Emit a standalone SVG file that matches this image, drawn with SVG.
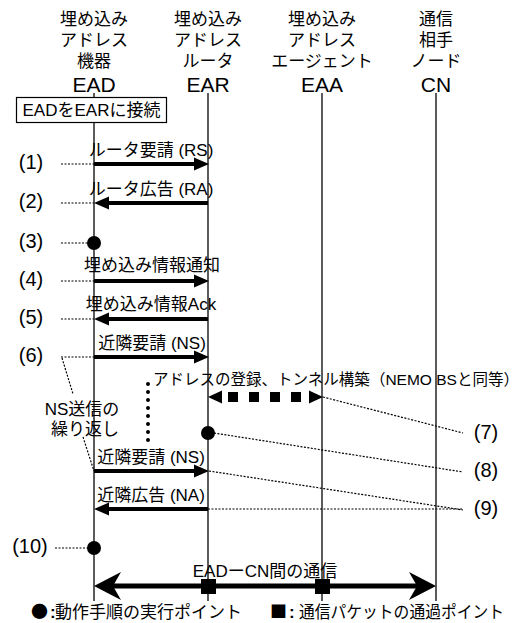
<svg xmlns="http://www.w3.org/2000/svg" width="527" height="623" viewBox="0 0 527 623">
<style>
text{font-family:"Liberation Sans","Noto Sans CJK JP",sans-serif;fill:#000}
.jp{font-size:17px}
.hd{font-size:17px;text-anchor:middle}
.big{font-size:21px;text-anchor:middle}
.lab{font-size:17px;text-anchor:middle}
.num{font-size:20px;text-anchor:middle}
.life{stroke:#333;stroke-width:1.6;fill:none}
.msg{stroke:#000;stroke-width:4;fill:none}
.head{fill:#000}
.dot{stroke:#000;stroke-width:1.2;stroke-dasharray:2 1.5;fill:none}
.pt{fill:#000}
</style>
<rect width="527" height="623" fill="#fff"/>

<g id="node-EAD">
<text class="hd" x="94" y="25">埋め込み</text>
<text class="hd" x="94" y="46">アドレス</text>
<text class="hd" x="94" y="67">機器</text>
<text class="big" x="94" y="92">EAD</text>
<line class="life" x1="94" y1="93" x2="94" y2="601"/>
</g>
<g id="node-EAR">
<text class="hd" x="208" y="25">埋め込み</text>
<text class="hd" x="208" y="46">アドレス</text>
<text class="hd" x="208" y="67">ルータ</text>
<text class="big" x="208" y="92">EAR</text>
<line class="life" x1="208" y1="93" x2="208" y2="601"/>
</g>
<g id="node-EAA">
<text class="hd" x="322" y="25">埋め込み</text>
<text class="hd" x="322" y="46">アドレス</text>
<text class="hd" x="322" y="67">エージェント</text>
<text class="big" x="322" y="92">EAA</text>
<line class="life" x1="322" y1="93" x2="322" y2="601"/>
</g>
<g id="node-CN">
<text class="hd" x="436" y="25">通信</text>
<text class="hd" x="436" y="46">相手</text>
<text class="hd" x="436" y="67">ノード</text>
<text class="big" x="436" y="92">CN</text>
<line class="life" x1="436" y1="93" x2="436" y2="601"/>
</g>

<g id="connect-box">
<rect x="16.5" y="97.5" width="150" height="25" fill="#fff" stroke="#000" stroke-width="1.2"/>
<text class="lab" x="91.5" y="116">EADをEARに接続</text>
</g>

<g id="step-labels">
<text class="num" x="31" y="169">(1)</text>
<text class="num" x="31" y="208">(2)</text>
<text class="num" x="31" y="248">(3)</text>
<text class="num" x="31" y="286">(4)</text>
<text class="num" x="31" y="324">(5)</text>
<text class="num" x="31" y="362">(6)</text>
<text class="num" x="486" y="439">(7)</text>
<text class="num" x="486" y="477">(8)</text>
<text class="num" x="486" y="515">(9)</text>
<text class="num" x="30" y="553">(10)</text>
<text class="jp" x="82" y="415" text-anchor="middle">NS送信の</text>
<text class="jp" x="85" y="435" text-anchor="middle">繰り返し</text>
</g>

<g id="points">
<circle class="pt" cx="94" cy="243" r="7"/>
<circle class="pt" cx="208" cy="433" r="7"/>
<circle class="pt" cx="94" cy="548" r="7"/>
</g>

<g id="connectors">
<text class="lab" x="151" y="156">ルータ要請 (RS)</text>
<line class="msg" x1="94" y1="164" x2="196" y2="164"/>
<polygon class="head" points="194,157.5 209,164 194,170.5"/>
<line class="dot" x1="61" y1="164" x2="94" y2="164"/>
<text class="lab" x="151" y="195">ルータ広告 (RA)</text>
<line class="msg" x1="208" y1="203" x2="106" y2="203"/>
<polygon class="head" points="109,196.5 94,203 109,209.5"/>
<line class="dot" x1="61" y1="203" x2="94" y2="203"/>
<line class="dot" x1="61" y1="243" x2="88" y2="243"/>
<text class="lab" x="152" y="271">埋め込み情報通知</text>
<line class="msg" x1="94" y1="281" x2="196" y2="281"/>
<polygon class="head" points="194,274.5 209,281 194,287.5"/>
<line class="dot" x1="61" y1="281" x2="94" y2="281"/>
<text class="lab" x="151" y="310">埋め込み情報Ack</text>
<line class="msg" x1="208" y1="319" x2="106" y2="319"/>
<polygon class="head" points="109,312.5 94,319 109,325.5"/>
<line class="dot" x1="61" y1="319" x2="94" y2="319"/>
<text class="lab" x="152" y="349">近隣要請 (NS)</text>
<line class="msg" x1="94" y1="357" x2="196" y2="357"/>
<polygon class="head" points="194,350.5 209,357 194,363.5"/>
<line class="dot" x1="61" y1="357" x2="94" y2="357"/>
<line class="dot" x1="62" y1="358" x2="73" y2="394"/>
<line class="dot" x1="83" y1="437" x2="94" y2="471"/>
<line x1="148" y1="384" x2="148" y2="441" stroke="#000" stroke-width="4" stroke-linecap="round" stroke-dasharray="0 8"/>
<text x="153" y="385" style="font-size:15.5px" textLength="366" lengthAdjust="spacingAndGlyphs">アドレスの登録、トンネル構築（NEMO BSと同等）</text>
<polygon class="head" points="222,390.5 208,397 222,403.5"/>
<polygon class="head" points="309,390.5 323,397 309,403.5"/>
<path d="M228,397 H302" stroke="#000" stroke-width="10" stroke-dasharray="10 11" fill="none"/>
<line class="dot" x1="323" y1="397" x2="463" y2="433"/>
<line class="dot" x1="214" y1="433" x2="463" y2="472"/>
<text class="lab" x="151" y="463">近隣要請 (NS)</text>
<line class="msg" x1="94" y1="471" x2="196" y2="471"/>
<polygon class="head" points="194,464.5 209,471 194,477.5"/>
<line class="dot" x1="209" y1="471" x2="463" y2="510"/>
<text class="lab" x="151" y="501">近隣広告 (NA)</text>
<line class="msg" x1="208" y1="509" x2="106" y2="509"/>
<polygon class="head" points="109,502.5 94,509 109,515.5"/>
<line class="dot" x1="208" y1="509" x2="463" y2="509"/>
<line class="dot" x1="55" y1="548" x2="88" y2="548"/>
<text class="lab" x="265" y="577">EADーCN間の通信</text>
<line x1="108" y1="586" x2="422" y2="586" stroke="#000" stroke-width="5"/>
<path class="head" d="M94,586 L121,572 L113,586 L121,600 Z"/>
<path class="head" d="M436,586 L409,572 L417,586 L409,600 Z"/>
<rect class="pt" x="201" y="579" width="15" height="15"/>
<rect class="pt" x="315" y="579" width="15" height="15"/>
</g>

<g id="legend">
<text x="31" y="618" style="font-family:'Noto Sans CJK JP',sans-serif;font-size:17px">●</text>
<text x="50" y="618" style="font-size:17px;font-weight:bold">:</text>
<text class="jp" x="55" y="618">動作手順の実行ポイント</text>
<text x="270" y="618" style="font-family:'Noto Sans CJK JP',sans-serif;font-size:17px">■</text>
<text x="289" y="618" style="font-size:17px;font-weight:bold">:</text>
<text class="jp" x="299" y="618" textLength="205" lengthAdjust="spacingAndGlyphs">通信パケットの通過ポイント</text>
</g>
</svg>
